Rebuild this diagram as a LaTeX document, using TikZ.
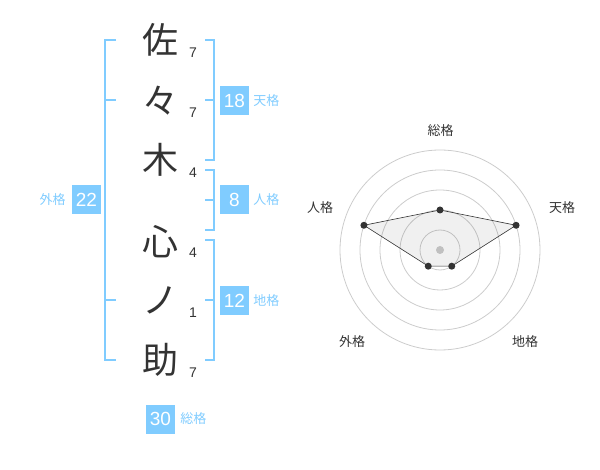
\documentclass[tikz,border=0pt]{standalone}
\usepackage{fontspec}
\setmainfont{Liberation Sans}
\newfontfamily\cjk{Noto Sans CJK JP}
\usetikzlibrary{positioning}
\definecolor{kakublue}{HTML}{80CCFF}
\definecolor{inkgray}{HTML}{333333}
\definecolor{ringgray}{HTML}{CCCCCC}

\begin{document}
\begin{tikzpicture}[x=1pt,y=1pt,
  kanji/.style={font=\cjk\fontsize{36}{36}\selectfont,text=inkgray},
  kakusu/.style={font=\fontsize{14}{14}\selectfont,text=inkgray},
  kakubox/.style={fill=kakublue,text=white,minimum size=29pt,font=\fontsize{19}{19}\selectfont},
  kakulabel/.style={font=\cjk\fontsize{13}{13}\selectfont,text=kakublue},
  bracket/.style={draw=kakublue,line width=2pt},
  ring/.style={draw=ringgray,line width=0.8pt},
  axislabel/.style={font=\cjk\fontsize{13}{13}\selectfont,text=inkgray},
  dot/.style={circle,fill=inkgray,minimum size=7pt}]
\tikzstyle{every node}+=[inner sep=0pt]
\useasboundingbox (0,0) rectangle (600,-470);
\node [kanji] (c1) at (160,-40) {佐};
\node [kanji] (c2) at (160,-101) {々};
\node [kanji] (c3) at (160,-160) {木};
\node [kanji] (c4) at (160,-242) {心};
\node [kanji] (c5) at (160,-300) {ノ};
\node [kanji] (c6) at (160,-360) {助};
\node [kakusu] (n1) at (193,-53) {7};
\node [kakusu] (n2) at (193,-113) {7};
\node [kakusu] (n3) at (193,-173) {4};
\node [kakusu] (n4) at (193,-253) {4};
\node [kakusu] (n5) at (193,-313) {1};
\node [kakusu] (n6) at (193,-373) {7};
\draw [bracket] (116,-40) -- (105,-40) -- (105,-360) -- (116,-360);
\draw [bracket] (105,-100) -- (116,-100);
\draw [bracket] (105,-300) -- (116,-300);
\node [kakubox] (b22) at (86.5,-200) {22};
\node [kakulabel,left=6pt of b22] (l22) {外格};
\draw [bracket] (205,-40) -- (214,-40) -- (214,-160) -- (205,-160);
\draw [bracket] (205,-100) -- (214,-100);
\node [kakubox] (b18) at (234.5,-100.5) {18};
\node [kakulabel,right=4pt of b18] (l18) {天格};
\draw [bracket] (205,-170) -- (214,-170) -- (214,-230) -- (205,-230);
\draw [bracket] (214,-200) -- (205,-200);
\node [kakubox] (b8) at (234.5,-200) {8};
\node [kakulabel,right=4pt of b8] (l8) {人格};
\draw [bracket] (205,-240) -- (214,-240) -- (214,-360) -- (205,-360);
\draw [bracket] (205,-300) -- (214,-300);
\node [kakubox] (b12) at (234.5,-300.5) {12};
\node [kakulabel,right=4pt of b12] (l12) {地格};
\node [kakubox] (b30) at (160.5,-419) {30};
\node [kakulabel,right=5pt of b30] (l30) {総格};
\coordinate (ctr) at (440,-250);
\draw [ring] (ctr) circle (20pt);
\draw [ring] (ctr) circle (40pt);
\draw [ring] (ctr) circle (60pt);
\draw [ring] (ctr) circle (80pt);
\draw [ring] (ctr) circle (100pt);
\fill [ringgray] (ctr) circle (4pt);
\coordinate (vsou) at ([shift={(90:40pt)}]ctr);
\coordinate (vten) at ([shift={(18:80pt)}]ctr);
\coordinate (vchi) at ([shift={(-54:20pt)}]ctr);
\coordinate (vgai) at ([shift={(-126:20pt)}]ctr);
\coordinate (vjin) at ([shift={(162:80pt)}]ctr);
\draw [draw=inkgray,fill=black,fill opacity=0.06,line width=0.6pt] (vsou) -- (vten) -- (vchi) -- (vgai) -- (vjin) -- cycle;
\node [dot] (dsou) at (vsou) {};
\node [dot] (dten) at (vten) {};
\node [dot] (dchi) at (vchi) {};
\node [dot] (dgai) at (vgai) {};
\node [dot] (djin) at (vjin) {};
\node [axislabel] (asou) at (440.5,-131) {総格};
\node [axislabel] (aten) at (562,-208) {天格};
\node [axislabel] (ajin) at (320,-208) {人格};
\node [axislabel] (agai) at (352,-342) {外格};
\node [axislabel] (achi) at (525,-342) {地格};
\end{tikzpicture}
\end{document}
